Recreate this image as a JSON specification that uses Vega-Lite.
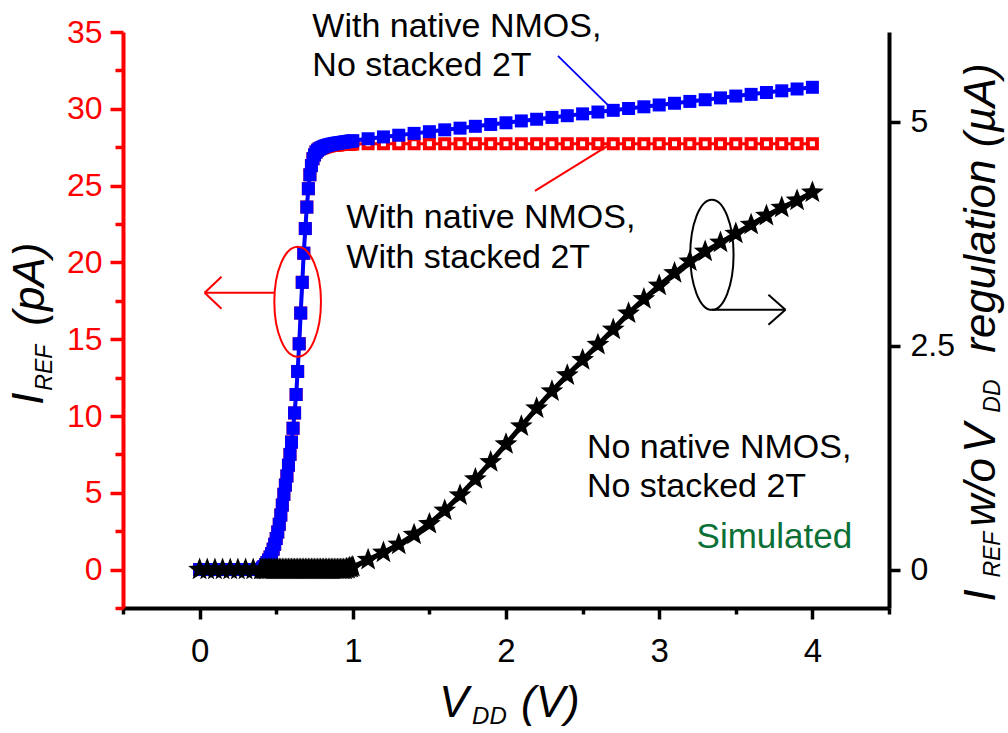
{
  "$schema": "https://vega.github.io/schema/vega-lite/v6.json",
  "width": 766,
  "height": 576,
  "autosize": {"type": "none"},
  "padding": {"left": 123, "top": 32, "right": 119, "bottom": 125},
  "background": "white",
  "config": {
    "view": {"stroke": null},
    "axis": {"grid": false, "labelFont": "Liberation Sans", "labelFontSize": 32, "domainWidth": 4, "tickWidth": 3.5, "title": null},
    "text": {"font": "Liberation Sans"}
  },
  "datasets": {
    "blue": [
      {"V": 0, "I": 0}, {"V": 0.05, "I": 0}, {"V": 0.1, "I": 0}, {"V": 0.15, "I": 0}, {"V": 0.2, "I": 0}, {"V": 0.25, "I": 0}, {"V": 0.3, "I": 0}, {"V": 0.35, "I": 0}, {"V": 0.4, "I": 0},
      {"V": 0.41, "I": 0.1}, {"V": 0.42, "I": 0.2}, {"V": 0.43, "I": 0.32}, {"V": 0.44, "I": 0.46}, {"V": 0.45, "I": 0.62}, {"V": 0.46, "I": 0.82}, {"V": 0.47, "I": 1.05}, {"V": 0.48, "I": 1.33}, {"V": 0.49, "I": 1.65}, {"V": 0.5, "I": 2.02},
      {"V": 0.51, "I": 2.45}, {"V": 0.52, "I": 2.95}, {"V": 0.53, "I": 3.55}, {"V": 0.54, "I": 4.2}, {"V": 0.55, "I": 4.9}, {"V": 0.56, "I": 5.5}, {"V": 0.57, "I": 6.1}, {"V": 0.58, "I": 6.8}, {"V": 0.59, "I": 7.5}, {"V": 0.6, "I": 8.3},
      {"V": 0.61, "I": 9.2}, {"V": 0.62, "I": 10.2}, {"V": 0.63, "I": 11.4}, {"V": 0.64, "I": 12.9}, {"V": 0.65, "I": 14.7}, {"V": 0.66, "I": 16.7}, {"V": 0.67, "I": 18.7}, {"V": 0.68, "I": 20.6}, {"V": 0.69, "I": 22.2}, {"V": 0.7, "I": 23.6},
      {"V": 0.71, "I": 24.8}, {"V": 0.72, "I": 25.7}, {"V": 0.73, "I": 26.3}, {"V": 0.74, "I": 26.75}, {"V": 0.75, "I": 27.0}, {"V": 0.76, "I": 27.18}, {"V": 0.77, "I": 27.3}, {"V": 0.78, "I": 27.38}, {"V": 0.79, "I": 27.44}, {"V": 0.8, "I": 27.49},
      {"V": 0.81, "I": 27.54}, {"V": 0.82, "I": 27.58}, {"V": 0.83, "I": 27.61}, {"V": 0.84, "I": 27.64}, {"V": 0.85, "I": 27.67}, {"V": 0.86, "I": 27.69}, {"V": 0.87, "I": 27.71}, {"V": 0.88, "I": 27.73}, {"V": 0.89, "I": 27.75}, {"V": 0.9, "I": 27.77},
      {"V": 0.91, "I": 27.78}, {"V": 0.92, "I": 27.8}, {"V": 0.93, "I": 27.81}, {"V": 0.94, "I": 27.83}, {"V": 0.95, "I": 27.84}, {"V": 0.96, "I": 27.86}, {"V": 0.97, "I": 27.87}, {"V": 0.98, "I": 27.89}, {"V": 0.99, "I": 27.9}, {"V": 1.0, "I": 27.92},
      {"V": 1.1, "I": 28.05}, {"V": 1.2, "I": 28.17}, {"V": 1.3, "I": 28.28}, {"V": 1.4, "I": 28.4}, {"V": 1.5, "I": 28.51}, {"V": 1.6, "I": 28.63}, {"V": 1.7, "I": 28.74}, {"V": 1.8, "I": 28.86}, {"V": 1.9, "I": 28.98}, {"V": 2.0, "I": 29.09},
      {"V": 2.1, "I": 29.21}, {"V": 2.2, "I": 29.32}, {"V": 2.3, "I": 29.44}, {"V": 2.4, "I": 29.55}, {"V": 2.5, "I": 29.67}, {"V": 2.6, "I": 29.79}, {"V": 2.7, "I": 29.9}, {"V": 2.8, "I": 30.02}, {"V": 2.9, "I": 30.13}, {"V": 3.0, "I": 30.25},
      {"V": 3.1, "I": 30.36}, {"V": 3.2, "I": 30.48}, {"V": 3.3, "I": 30.59}, {"V": 3.4, "I": 30.71}, {"V": 3.5, "I": 30.83}, {"V": 3.6, "I": 30.94}, {"V": 3.7, "I": 31.06}, {"V": 3.8, "I": 31.17}, {"V": 3.9, "I": 31.29}, {"V": 4.0, "I": 31.4}
    ],
    "red": [
      {"V": 0, "I": 0}, {"V": 0.05, "I": 0}, {"V": 0.1, "I": 0}, {"V": 0.15, "I": 0}, {"V": 0.2, "I": 0}, {"V": 0.25, "I": 0}, {"V": 0.3, "I": 0}, {"V": 0.35, "I": 0}, {"V": 0.4, "I": 0},
      {"V": 0.41, "I": 0.1}, {"V": 0.42, "I": 0.2}, {"V": 0.43, "I": 0.32}, {"V": 0.44, "I": 0.46}, {"V": 0.45, "I": 0.62}, {"V": 0.46, "I": 0.82}, {"V": 0.47, "I": 1.05}, {"V": 0.48, "I": 1.33}, {"V": 0.49, "I": 1.65}, {"V": 0.5, "I": 2.02},
      {"V": 0.51, "I": 2.45}, {"V": 0.52, "I": 2.95}, {"V": 0.53, "I": 3.55}, {"V": 0.54, "I": 4.2}, {"V": 0.55, "I": 4.9}, {"V": 0.56, "I": 5.5}, {"V": 0.57, "I": 6.1}, {"V": 0.58, "I": 6.8}, {"V": 0.59, "I": 7.5}, {"V": 0.6, "I": 8.3},
      {"V": 0.61, "I": 9.2}, {"V": 0.62, "I": 10.2}, {"V": 0.63, "I": 11.4}, {"V": 0.64, "I": 12.9}, {"V": 0.65, "I": 14.7}, {"V": 0.66, "I": 16.7}, {"V": 0.67, "I": 18.7}, {"V": 0.68, "I": 20.6}, {"V": 0.69, "I": 22.2}, {"V": 0.7, "I": 23.6},
      {"V": 0.71, "I": 24.8}, {"V": 0.72, "I": 25.7}, {"V": 0.73, "I": 26.3}, {"V": 0.74, "I": 26.75}, {"V": 0.75, "I": 27.0}, {"V": 0.76, "I": 27.18}, {"V": 0.77, "I": 27.3}, {"V": 0.78, "I": 27.38}, {"V": 0.79, "I": 27.42}, {"V": 0.8, "I": 27.45},
      {"V": 0.81, "I": 27.49}, {"V": 0.82, "I": 27.52}, {"V": 0.83, "I": 27.55}, {"V": 0.84, "I": 27.57}, {"V": 0.85, "I": 27.59}, {"V": 0.86, "I": 27.61}, {"V": 0.87, "I": 27.62}, {"V": 0.88, "I": 27.63}, {"V": 0.89, "I": 27.64}, {"V": 0.9, "I": 27.65},
      {"V": 0.91, "I": 27.66}, {"V": 0.92, "I": 27.67}, {"V": 0.93, "I": 27.67}, {"V": 0.94, "I": 27.68}, {"V": 0.95, "I": 27.69}, {"V": 0.96, "I": 27.69}, {"V": 0.97, "I": 27.7}, {"V": 0.98, "I": 27.7}, {"V": 0.99, "I": 27.71}, {"V": 1.0, "I": 27.71},
      {"V": 1.1, "I": 27.72}, {"V": 1.2, "I": 27.72}, {"V": 1.3, "I": 27.72}, {"V": 1.4, "I": 27.72}, {"V": 1.5, "I": 27.72}, {"V": 1.6, "I": 27.72}, {"V": 1.7, "I": 27.72}, {"V": 1.8, "I": 27.72}, {"V": 1.9, "I": 27.72}, {"V": 2.0, "I": 27.72},
      {"V": 2.1, "I": 27.72}, {"V": 2.2, "I": 27.72}, {"V": 2.3, "I": 27.72}, {"V": 2.4, "I": 27.72}, {"V": 2.5, "I": 27.72}, {"V": 2.6, "I": 27.72}, {"V": 2.7, "I": 27.72}, {"V": 2.8, "I": 27.72}, {"V": 2.9, "I": 27.72}, {"V": 3.0, "I": 27.72},
      {"V": 3.1, "I": 27.72}, {"V": 3.2, "I": 27.72}, {"V": 3.3, "I": 27.72}, {"V": 3.4, "I": 27.72}, {"V": 3.5, "I": 27.72}, {"V": 3.6, "I": 27.72}, {"V": 3.7, "I": 27.72}, {"V": 3.8, "I": 27.72}, {"V": 3.9, "I": 27.72}, {"V": 4.0, "I": 27.72}
    ],
    "stars": [
      {"V": 0, "Iu": 0}, {"V": 0.05, "Iu": 0}, {"V": 0.1, "Iu": 0}, {"V": 0.15, "Iu": 0}, {"V": 0.2, "Iu": 0}, {"V": 0.25, "Iu": 0}, {"V": 0.3, "Iu": 0}, {"V": 0.35, "Iu": 0}, {"V": 0.4, "Iu": 0},
      {"V": 0.41, "Iu": 0}, {"V": 0.42, "Iu": 0}, {"V": 0.43, "Iu": 0}, {"V": 0.44, "Iu": 0}, {"V": 0.45, "Iu": 0}, {"V": 0.46, "Iu": 0}, {"V": 0.47, "Iu": 0}, {"V": 0.48, "Iu": 0}, {"V": 0.49, "Iu": 0}, {"V": 0.5, "Iu": 0},
      {"V": 0.51, "Iu": 0}, {"V": 0.52, "Iu": 0}, {"V": 0.53, "Iu": 0}, {"V": 0.54, "Iu": 0}, {"V": 0.55, "Iu": 0}, {"V": 0.56, "Iu": 0}, {"V": 0.57, "Iu": 0}, {"V": 0.58, "Iu": 0}, {"V": 0.59, "Iu": 0}, {"V": 0.6, "Iu": 0},
      {"V": 0.61, "Iu": 0}, {"V": 0.62, "Iu": 0}, {"V": 0.63, "Iu": 0}, {"V": 0.64, "Iu": 0}, {"V": 0.65, "Iu": 0}, {"V": 0.66, "Iu": 0}, {"V": 0.67, "Iu": 0}, {"V": 0.68, "Iu": 0}, {"V": 0.69, "Iu": 0}, {"V": 0.7, "Iu": 0},
      {"V": 0.71, "Iu": 0}, {"V": 0.72, "Iu": 0}, {"V": 0.73, "Iu": 0}, {"V": 0.74, "Iu": 0}, {"V": 0.75, "Iu": 0}, {"V": 0.76, "Iu": 0}, {"V": 0.77, "Iu": 0}, {"V": 0.78, "Iu": 0}, {"V": 0.79, "Iu": 0}, {"V": 0.8, "Iu": 0},
      {"V": 0.81, "Iu": 0}, {"V": 0.82, "Iu": 0}, {"V": 0.83, "Iu": 0}, {"V": 0.84, "Iu": 0}, {"V": 0.85, "Iu": 0}, {"V": 0.86, "Iu": 0}, {"V": 0.87, "Iu": 0}, {"V": 0.88, "Iu": 0}, {"V": 0.89, "Iu": 0}, {"V": 0.9, "Iu": 0},
      {"V": 0.91, "Iu": 0}, {"V": 0.92, "Iu": 0}, {"V": 0.93, "Iu": 0}, {"V": 0.94, "Iu": 0}, {"V": 0.95, "Iu": 0}, {"V": 0.96, "Iu": 0.01}, {"V": 0.97, "Iu": 0.01}, {"V": 0.98, "Iu": 0.02}, {"V": 0.99, "Iu": 0.02}, {"V": 1.0, "Iu": 0.03},
      {"V": 1.1, "Iu": 0.11}, {"V": 1.2, "Iu": 0.19}, {"V": 1.3, "Iu": 0.28}, {"V": 1.4, "Iu": 0.39}, {"V": 1.5, "Iu": 0.51}, {"V": 1.6, "Iu": 0.66}, {"V": 1.7, "Iu": 0.83}, {"V": 1.8, "Iu": 1.01}, {"V": 1.9, "Iu": 1.2}, {"V": 2.0, "Iu": 1.4},
      {"V": 2.1, "Iu": 1.6}, {"V": 2.2, "Iu": 1.8}, {"V": 2.3, "Iu": 1.99}, {"V": 2.4, "Iu": 2.17}, {"V": 2.5, "Iu": 2.34}, {"V": 2.6, "Iu": 2.51}, {"V": 2.7, "Iu": 2.68}, {"V": 2.8, "Iu": 2.86}, {"V": 2.9, "Iu": 3.02}, {"V": 3.0, "Iu": 3.17},
      {"V": 3.1, "Iu": 3.31}, {"V": 3.2, "Iu": 3.44}, {"V": 3.3, "Iu": 3.55}, {"V": 3.4, "Iu": 3.65}, {"V": 3.5, "Iu": 3.75}, {"V": 3.6, "Iu": 3.85}, {"V": 3.7, "Iu": 3.95}, {"V": 3.8, "Iu": 4.04}, {"V": 3.9, "Iu": 4.12}, {"V": 4.0, "Iu": 4.21}
    ],
    "notes": [
      {"V": 0.736, "I": 35.33, "text": "With native NMOS,"},
      {"V": 0.736, "I": 32.79, "text": "No stacked 2T"},
      {"V": 0.958, "I": 22.9, "text": "With native NMOS,"},
      {"V": 0.958, "I": 20.3, "text": "With stacked 2T"},
      {"V": 2.528, "I": 7.94, "text": "No native NMOS,"},
      {"V": 2.528, "I": 5.4, "text": "No stacked 2T"}
    ],
    "sim": [{"V": 3.244, "I": 2.15, "text": "Simulated"}],
    "blueLeader": [{"V": 2.339, "I": 33.44, "V2": 2.664, "I2": 30.25}],
    "redLines": [
      {"V": 2.189, "I": 24.66, "V2": 2.664, "I2": 27.59},
      {"V": 0.489, "I": 18.02, "V2": 0.033, "I2": 18.02},
      {"V": 0.033, "I": 18.02, "V2": 0.143, "I2": 19.06},
      {"V": 0.033, "I": 18.02, "V2": 0.143, "I2": 16.98}
    ],
    "blackLines": [
      {"V": 3.344, "I": 16.92, "V2": 3.824, "I2": 16.92},
      {"V": 3.824, "I": 16.92, "V2": 3.713, "I2": 17.89},
      {"V": 3.824, "I": 16.92, "V2": 3.713, "I2": 15.94}
    ],
    "redEllipse": [{"V": 0.64, "I": 17.44}],
    "blackEllipse": [{"V": 3.344, "I": 20.49}],
    "titleMainH": [
      {"V": 1.5635, "I": -9.564, "text": "V"},
      {"V": 2.098, "I": -9.564, "text": "(V)"}
    ],
    "titleSubH": [{"V": 1.7785, "I": -10.02, "text": "DD"}],
    "titleMainR": [
      {"V": -1.0228, "I": 10.735, "text": "I"},
      {"V": -1.016, "I": 15.875, "text": "(pA)"},
      {"V": 5.192, "I": -2.082, "text": "I"},
      {"V": 5.192, "I": 2.798, "text": "w/o"},
      {"V": 5.192, "I": 7.612, "text": "V"},
      {"V": 5.192, "I": 14.118, "text": "regulation (µA)"}
    ],
    "titleSubR": [
      {"V": -0.964, "I": 11.646, "text": "REF"},
      {"V": 5.225, "I": -0.52, "text": "REF"},
      {"V": 5.225, "I": 10.215, "text": "DD"}
    ]
  },
  "encoding": {
    "x": {
      "field": "V", "type": "quantitative",
      "scale": {"domain": [-0.5, 4.5], "nice": false, "zero": false},
      "axis": {
        "orient": "bottom",
        "values": [-0.5, 0, 0.5, 1, 1.5, 2, 2.5, 3, 3.5, 4, 4.5],
        "format": "~g",
        "labelExpr": "datum.value % 1 === 0 ? datum.label : ''",
        "domainColor": "black", "tickColor": "black", "labelColor": "black",
        "labelFontSize": 33,
        "tickSize": 11,
        "tickDash": {"condition": {"test": "datum.value % 1 !== 0", "value": [6, 30]}, "value": [30, 0]},
        "labelPadding": 16
      }
    }
  },
  "layer": [
    {
      "encoding": {
        "y": {
          "field": "I", "type": "quantitative",
          "scale": {"domain": [-2.5, 35], "nice": false, "zero": false},
          "axis": {
            "orient": "left",
            "values": [-2.5, 0, 2.5, 5, 7.5, 10, 12.5, 15, 17.5, 20, 22.5, 25, 27.5, 30, 32.5, 35],
            "format": "~g",
            "labelExpr": "datum.value % 5 === 0 ? datum.label : ''",
            "domainColor": "red", "tickColor": "red", "labelColor": "red",
            "tickSize": 13,
            "tickDash": {"condition": {"test": "datum.value % 5 !== 0", "value": [8, 30]}, "value": [30, 0]},
            "labelPadding": 8
          }
        }
      },
      "layer": [
        {"data": {"name": "red"}, "mark": {"type": "line", "color": "red", "strokeWidth": 3}},
        {"data": {"name": "red"}, "mark": {"type": "point", "shape": "square", "filled": false, "fill": "white", "color": "red", "strokeWidth": 4, "size": 81, "opacity": 1}},
        {"data": {"name": "blue"}, "mark": {"type": "line", "color": "blue", "strokeWidth": 4}},
        {"data": {"name": "blue"}, "mark": {"type": "point", "shape": "square", "filled": true, "color": "blue", "size": 169, "opacity": 1}},
        {"data": {"name": "blueLeader"}, "mark": {"type": "rule", "color": "blue", "strokeWidth": 1.8}, "encoding": {"x2": {"field": "V2"}, "y2": {"field": "I2"}}},
        {"data": {"name": "redLines"}, "mark": {"type": "rule", "color": "red", "strokeWidth": 2}, "encoding": {"x2": {"field": "V2"}, "y2": {"field": "I2"}}},
        {"data": {"name": "blackLines"}, "mark": {"type": "rule", "color": "black", "strokeWidth": 2}, "encoding": {"x2": {"field": "V2"}, "y2": {"field": "I2"}}},
        {"data": {"name": "redEllipse"}, "mark": {"type": "point", "shape": "M -0.424 0 A 0.424 1 0 1 1 0.424 0 A 0.424 1 0 1 1 -0.424 0 Z", "size": 12100, "filled": false, "color": "red", "strokeWidth": 2, "opacity": 1}},
        {"data": {"name": "blackEllipse"}, "mark": {"type": "point", "shape": "M -0.394 0 A 0.394 1 0 1 1 0.394 0 A 0.394 1 0 1 1 -0.394 0 Z", "size": 12100, "filled": false, "color": "black", "strokeWidth": 2, "opacity": 1}},
        {"data": {"name": "notes"}, "mark": {"type": "text", "align": "left", "baseline": "middle", "fontSize": 34, "color": "black"}, "encoding": {"text": {"field": "text"}}},
        {"data": {"name": "sim"}, "mark": {"type": "text", "align": "left", "baseline": "middle", "fontSize": 35, "color": "#0b7035"}, "encoding": {"text": {"field": "text"}}},
        {"data": {"name": "titleMainH"}, "mark": {"type": "text", "align": "left", "baseline": "alphabetic", "fontSize": 44, "fontStyle": "italic", "color": "black"}, "encoding": {"text": {"field": "text"}}},
        {"data": {"name": "titleSubH"}, "mark": {"type": "text", "align": "left", "baseline": "alphabetic", "fontSize": 24, "fontStyle": "italic", "color": "black"}, "encoding": {"text": {"field": "text"}}},
        {"data": {"name": "titleMainR"}, "mark": {"type": "text", "align": "left", "baseline": "alphabetic", "angle": 270, "fontSize": 44, "fontStyle": "italic", "color": "black"}, "encoding": {"text": {"field": "text"}}},
        {"data": {"name": "titleSubR"}, "mark": {"type": "text", "align": "left", "baseline": "alphabetic", "angle": 270, "fontSize": 23, "fontStyle": "italic", "color": "black"}, "encoding": {"text": {"field": "text"}}}
      ]
    },
    {
      "data": {"name": "stars"},
      "encoding": {
        "y": {
          "field": "Iu", "type": "quantitative",
          "scale": {"domain": [-0.42857, 6], "nice": false, "zero": false},
          "axis": {
            "orient": "right",
            "values": [0, 2.5, 5],
            "format": ".1~f",
            "domainColor": "black", "tickColor": "black", "labelColor": "black",
            "tickSize": 11,
            "labelPadding": 10
          }
        }
      },
      "layer": [
        {"mark": {"type": "line", "color": "black", "strokeWidth": 5}},
        {"mark": {"type": "point", "shape": "M 0 -1 L 0.247 -0.34 L 0.951 -0.309 L 0.399 0.13 L 0.588 0.809 L 0 0.42 L -0.588 0.809 L -0.399 0.13 L -0.951 -0.309 L -0.247 -0.34 Z", "filled": true, "color": "black", "size": 576, "opacity": 1}}
      ]
    }
  ],
  "resolve": {"scale": {"y": "independent"}, "axis": {"y": "independent"}}
}
